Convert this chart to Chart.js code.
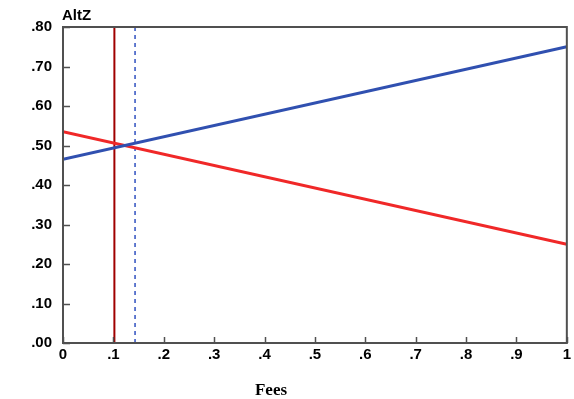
<!DOCTYPE html>
<html>
<head>
<meta charset="utf-8">
<script src="https://cdn.jsdelivr.net/npm/chart.js@4/dist/chart.umd.min.js"></script>
<style>
  html, body { margin: 0; padding: 0; background: #fff; }
  #wrap { width: 574px; height: 399px; }
</style>
</head>
<body>
<div id="wrap"><canvas id="altChart" width="574" height="399"></canvas></div>
<script>
// values
const feesX = [0, 1];
const blueAlt = [0.465, 0.75];
const redAlt = [0.535, 0.25];
const solidMarkerX = 0.102;
const dashedMarkerX = 0.143;
const yRange = [0, 0.8];
const xRange = [0, 1];

const axisColor = '#505050';
const labelFont = { family: 'Liberation Sans, Arial, sans-serif', size: 15, weight: 'bold' };

function toPoints(xs, ys) {
  return xs.map((x, i) => ({ x: x, y: ys[i] }));
}

function isMajor(v) {
  return Math.round(v * 100) % 10 === 0;
}

// frame round the plot, inward tick marks, "AltZ" and "Fees"
const framePlugin = {
  id: 'frame',
  afterDatasetsDraw(chart) {
    const ctx = chart.ctx;
    const a = chart.chartArea;
    const xs = chart.scales.x;
    const ys = chart.scales.y;
    ctx.save();
    ctx.strokeStyle = axisColor;
    ctx.lineWidth = 2;
    ctx.strokeRect(a.left, a.top, a.right - a.left, a.bottom - a.top);

    ctx.lineWidth = 1.5;
    ctx.beginPath();
    xs.ticks.forEach(t => {
      const px = Math.round(xs.getPixelForValue(t.value)) + 0.5;
      const len = isMajor(t.value) ? 6 : 3;
      ctx.moveTo(px, a.bottom);
      ctx.lineTo(px, a.bottom - len);
    });
    ys.ticks.forEach(t => {
      const py = Math.round(ys.getPixelForValue(t.value)) + 0.5;
      const len = isMajor(t.value) ? 7 : 3;
      ctx.moveTo(a.left, py);
      ctx.lineTo(a.left + len, py);
    });
    ctx.stroke();

    ctx.fillStyle = '#000';
    ctx.font = 'bold 15px Liberation Sans, Arial, sans-serif';
    ctx.textAlign = 'left';
    ctx.textBaseline = 'bottom';
    ctx.fillText('AltZ', a.left - 1, a.top - 4);

    ctx.font = 'bold 17px Liberation Serif, Times New Roman, serif';
    ctx.textAlign = 'center';
    ctx.textBaseline = 'middle';
    ctx.fillText('Fees', 271, 391);
    ctx.restore();
  }
};

new Chart(document.getElementById('altChart').getContext('2d'), {
  type: 'scatter',
  data: {
    datasets: [
      {
        data: toPoints(feesX, blueAlt),
        showLine: true,
        borderColor: '#3050b0',
        borderWidth: 3,
        pointRadius: 0
      },
      {
        data: toPoints(feesX, redAlt),
        showLine: true,
        borderColor: '#f02828',
        borderWidth: 3,
        pointRadius: 0
      },
      {
        data: toPoints([solidMarkerX, solidMarkerX], yRange),
        showLine: true,
        borderColor: '#a00000',
        borderWidth: 2,
        pointRadius: 0
      },
      {
        data: toPoints([dashedMarkerX, dashedMarkerX], yRange),
        showLine: true,
        borderColor: '#3050c0',
        borderWidth: 1.5,
        borderDash: [4, 4],
        pointRadius: 0
      }
    ]
  },
  options: {
    responsive: false,
    animation: false,
    layout: { padding: { left: 0, right: 7, top: 27, bottom: 0 } },
    plugins: {
      legend: { display: false },
      tooltip: { enabled: false }
    },
    scales: {
      x: {
        type: 'linear',
        min: xRange[0],
        max: xRange[1],
        grid: { display: false, drawTicks: false, tickLength: 0 },
        border: { display: false },
        ticks: {
          stepSize: 0.05,
          autoSkip: false,
          maxRotation: 0,
          padding: 3,
          color: '#000',
          font: labelFont,
          callback: function(v) {
            if (!isMajor(v)) return null;
            if (v === 0) return '0';
            if (Math.abs(v - 1) < 1e-9) return '1';
            return '.' + Math.round(v * 10);
          }
        },
        afterFit: function(scale) { scale.height = 56; }
      },
      y: {
        min: yRange[0],
        max: yRange[1],
        grid: { display: false, drawTicks: false, tickLength: 0 },
        border: { display: false },
        ticks: {
          stepSize: 0.05,
          autoSkip: false,
          padding: 11,
          color: '#000',
          font: labelFont,
          callback: function(v) {
            if (!isMajor(v)) return null;
            return '.' + (Math.round(v * 100) + '').padStart(2, '0');
          }
        },
        afterFit: function(scale) { scale.width = 63; }
      }
    }
  },
  plugins: [framePlugin]
});
</script>
</body>
</html>
